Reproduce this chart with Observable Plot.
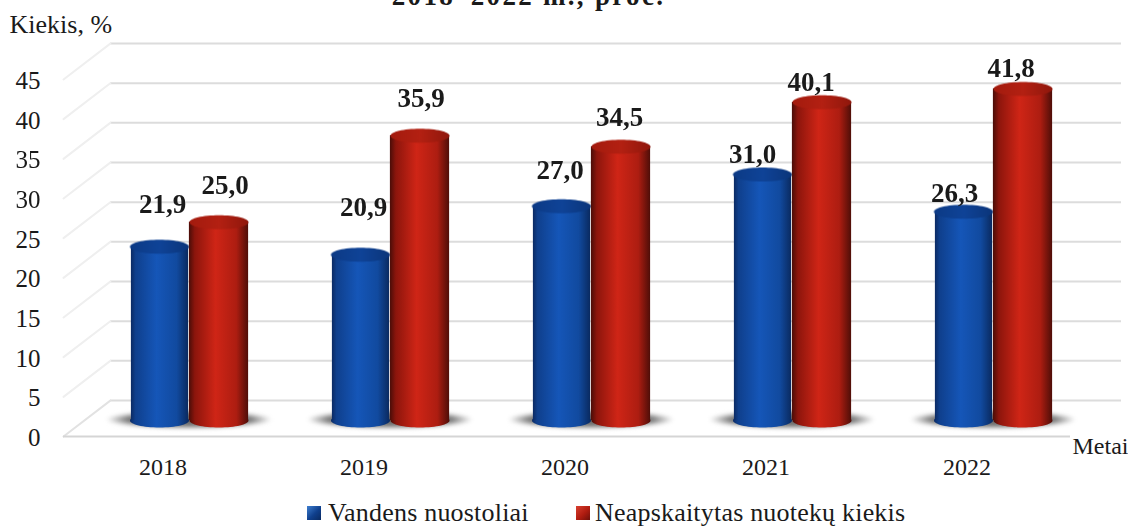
<!DOCTYPE html>
<html>
<head>
<meta charset="utf-8">
<script src="https://cdn.jsdelivr.net/npm/d3@7"></script>
<script src="https://cdn.jsdelivr.net/npm/@observablehq/plot@0.6"></script>
<style>
  html, body { margin: 0; padding: 0; background: #fff; overflow: hidden; }
  body { font-family: "Liberation Serif", serif; color: #1a1a1a; width: 1128px; height: 526px; }
  #title { height: 13px; margin-bottom: -5px; overflow: hidden; position: relative; z-index: 1; }
  #title span { position: absolute; left: 0; width: 1057px; text-align: center; bottom: 2.5px; line-height: 30px;
    font-weight: bold; font-size: 27px; letter-spacing: 2.3px; white-space: nowrap; }
  svg { display: block; overflow: hidden; }
  .shadow { filter: blur(2px); }
  .soft { filter: blur(0.5px); }
  #legend { position: relative; height: 28px; font-size: 26px; letter-spacing: 0.2px; line-height: 28px; white-space: nowrap; }
  #legend span { position: absolute; top: 1px; }
  #legend i { position: absolute; top: 8px; width: 14px; height: 14px; display: block; }
</style>
</head>
<body>
<div id="title"><span></span></div>
<div id="chart"></div>
<div id="legend"></div>
<script>
const titleText = "2018–2022 m., proc.";
const years = ["2018", "2019", "2020", "2021", "2022"];
const waterLoss = [21.9, 20.9, 27.0, 31.0, 26.3];
const untreated = [25.0, 35.9, 34.5, 40.1, 41.8];
const seriesNames = ["Vandens nuostoliai", "Neapskaitytas nuotekų kiekis"];
const yTicks = [0, 5, 10, 15, 20, 25, 30, 35, 40, 45];
const yTitle = "Kiekis, %";
const xTitle = "Metai";

// Layout nudges for the value labels, [dx, dy] from each cylinder's top
const blueNudge = [[3, -42], [3, -47], [-1.5, -36], [-10, -20], [-9, -18]];
const redNudge = [[6, -37], [1, -37], [-1.5, -29], [-11, -20], [-12, -21]];

const toRows = (vals) => years.map((year, i) => ({year, value: vals[i], i}));
const blueRows = toRows(waterLoss);
const redRows = toRows(untreated);

const fmt = (v) => v.toFixed(1).replace(".", ",");

function ellipse(rx, ry) {
  const k = 0.5523;
  return {
    draw(c) {
      c.moveTo(rx, 0);
      c.bezierCurveTo(rx, ry * k, rx * k, ry, 0, ry);
      c.bezierCurveTo(-rx * k, ry, -rx, ry * k, -rx, 0);
      c.bezierCurveTo(-rx, -ry * k, -rx * k, -ry, 0, -ry);
      c.bezierCurveTo(rx * k, -ry, rx, -ry * k, rx, 0);
      c.closePath();
    }
  };
}
const diagonal = {draw(c, l) { c.moveTo(0, 0); c.lineTo(0, -l); }};

const defs = () => {
  const d = d3.create("svg:defs");
  const grad = (id, stops) => {
    const g = d.append("linearGradient").attr("id", id);
    stops.forEach(([o, col]) => g.append("stop").attr("offset", o).attr("stop-color", col));
  };
  grad("gBlue", [[0, "#0b2a63"], [0.08, "#0f3f8c"], [0.45, "#1556b8"], [0.8, "#114a9f"], [1, "#0a2a60"]]);
  grad("gRed", [[0, "#4a0d08"], [0.1, "#8c150c"], [0.45, "#cf2516"], [0.8, "#ad1d11"], [1, "#4f0e08"]]);
  grad("gBlueTop", [[0, "#0c3a85"], [0.5, "#0f4397"], [1, "#0b357a"]]);
  grad("gRedTop", [[0, "#a31b0e"], [0.5, "#b32012"], [1, "#8f170c"]]);
  const r = d.append("radialGradient").attr("id", "gShadow");
  [[0, "#666"], [0.75, "#777"], [1, "#fff"]].forEach(([o, col]) =>
    r.append("stop").attr("offset", o).attr("stop-color", col));
  return d.node();
};

const font = "Liberation Serif";
const depthX = 47, depthY = -36;      // back wall offset
const barX = 24, barY = -16;          // cylinders stand mid-depth
const wallStroke = {stroke: "#dcdcdc", strokeWidth: 2, className: "soft"};

const labelMarks = (rows, nudges, centerDx) => rows.map((r, i) =>
  Plot.text([r], {
    x: "year", y: "value", text: (d) => fmt(d.value),
    dx: barX + centerDx + nudges[i][0], dy: barY + nudges[i][1],
    fontWeight: "bold", fontSize: 27, fontFamily: font, fill: "#1a1a1a"
  }));

const cylinder = (rows, idGrad, idTop, insetLeft, insetRight, centerDx) => [
  Plot.dot(rows, {x: "year", y: () => 0, dx: barX + centerDx, dy: barY,
    symbol: ellipse(29.5, 7), fill: `url(#${idGrad})`, stroke: "none", className: "soft"}),
  Plot.barY(rows, {x: "year", y: "value", dx: barX, dy: barY,
    insetLeft, insetRight, fill: `url(#${idGrad})`, className: "soft"}),
  Plot.dot(rows, {x: "year", y: "value", dx: barX + centerDx, dy: barY,
    symbol: ellipse(29.5, 7), fill: `url(#${idTop})`, stroke: "none", className: "soft"})
];

const chart = Plot.plot({
  width: 1128, height: 490,
  marginLeft: 63, marginRight: 58, marginTop: 71, marginBottom: 62,
  style: {background: "#fff", fontFamily: font, color: "#1a1a1a"},
  x: {type: "band", domain: years, padding: 0, label: null},
  y: {type: "linear", domain: [0, 45], label: null},
  marks: [
    defs,
    Plot.ruleY(yTicks, {...wallStroke, dx: depthX, dy: depthY, insetRight: -4}),
    Plot.vector(yTicks, {y: (d) => d, frameAnchor: "left", anchor: "start", length: 59, rotate: 52.5,
      shape: diagonal, stroke: (d) => d === 0 ? "#e2e2e2" : "#efefef", strokeWidth: 2, className: "soft"}),
    Plot.ruleY([0], {stroke: "#d5d5d5", strokeWidth: 2, className: "soft"}),
    Plot.dot(years, {x: (d) => d, y: () => 0, dx: barX, dy: barY - 1, symbol: ellipse(83, 9),
      fill: "url(#gShadow)", stroke: "none", className: "shadow"}),
    ...cylinder(blueRows, "gBlue", "gBlueTop", 42.9, 100.9, -29.5),
    ...cylinder(redRows, "gRed", "gRedTop", 100.9, 40.9, 30),
    ...labelMarks(blueRows, blueNudge, -29.5),
    ...labelMarks(redRows, redNudge, 30),
    Plot.axisY({ticks: yTicks, tickSize: 0, tickPadding: 23, dy: 1.5, fontSize: 25, label: null, fontFamily: font}),
    Plot.axisX({tickSize: 0, tickPadding: 21, dx: -2, fontSize: 24, label: null, fontFamily: font}),
    Plot.text([yTitle], {frameAnchor: "top-left", dx: -54, dy: -65, fontSize: 26, fontFamily: font, fill: "#1a1a1a"}),
    Plot.text([xTitle], {frameAnchor: "bottom-right", dx: 2, dy: 10, textAnchor: "start", lineAnchor: "middle", fontSize: 24, fontFamily: font, fill: "#1a1a1a"})
  ]
});
document.getElementById("chart").append(chart);
document.querySelector("#title span").textContent = titleText;

const legend = document.getElementById("legend");
const legendSpec = [
  {name: seriesNames[0], swatch: "linear-gradient(135deg,#3f7fd0,#0f3f8c 55%,#0a2a60)", sx: 307, tx: 328},
  {name: seriesNames[1], swatch: "linear-gradient(135deg,#d9402f,#b01c10 55%,#6d100a)", sx: 576, tx: 595}
];
legendSpec.forEach((s) => {
  const sw = document.createElement("i");
  sw.style.left = s.sx + "px";
  sw.style.background = s.swatch;
  const t = document.createElement("span");
  t.style.left = s.tx + "px";
  t.textContent = s.name;
  legend.append(sw, t);
});
</script>
</body>
</html>
